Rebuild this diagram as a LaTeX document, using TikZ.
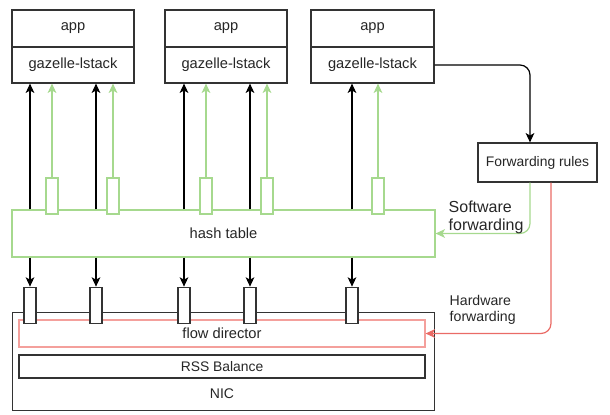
\documentclass[tikz,border=0pt]{standalone}
\usepackage{fontspec}
\setmainfont{Liberation Sans}
\usetikzlibrary{arrows.meta,calc}
\definecolor{gline}{HTML}{A6D98E}
\definecolor{rline}{HTML}{EA6B66}
\definecolor{rbox}{HTML}{F4A09C}
\definecolor{dk}{HTML}{333333}
\begin{document}
\begin{tikzpicture}[x=0.75pt,y=-0.75pt,
  box/.style={draw=dk,line width=0.9pt,fill=white,inner sep=0pt,minimum width={(#1)*0.75pt}},
  txt/.style={font=\fontsize{11}{13}\selectfont,text=black!85},
  pin/.style={draw=dk,line width=0.8pt,fill=white,minimum width=9pt,minimum height=27.5pt,inner sep=0pt},
  gpin/.style={draw=gline,line width=0.8pt,fill=white,minimum width=9pt,minimum height=27pt,inner sep=0pt},
  tip/.style={-{Stealth[length=7pt,width=6.5pt,inset=1.8pt]}},
  blk/.style={draw=black,line width=0.9pt,tip},
  grn/.style={draw=gline,line width=0.9pt,tip},
  red/.style={draw=rline,line width=0.9pt,tip}]
\useasboundingbox (0,0) rectangle (610,414);
% app boxes
\foreach \i/\xl/\xr in {1/12/134,2/165/287,3/311/434}{
  \node[box=\xr-\xl,minimum height=27.75pt,txt] (app\i) at ({(\xl+\xr)/2},28.5) {app};
  \node[box=\xr-\xl,minimum height=27pt,txt] (ls\i) at ({(\xl+\xr)/2},65) {gazelle-lstack};
}
% hash table
\node[draw=gline,line width=0.9pt,minimum width=317.25pt,minimum height=35.25pt,inner sep=0pt,txt] (ht) at (223.5,233.5) {hash table};
% green pins
\foreach \i/\x in {1/52,2/113,3/206,4/267,5/378}{
  \node[gpin] (g\i) at (\x,196) {};
}
% green up arrows
\draw[grn] (g1.north) -- (ls1.south -| g1.north);
\draw[grn] (g2.north) -- (ls1.south -| g2.north);
\draw[grn] (g3.north) -- (ls2.south -| g3.north);
\draw[grn] (g4.north) -- (ls2.south -| g4.north);
\draw[grn] (g5.north) -- (ls3.south -| g5.north);
% NIC
\node[box=422,minimum height=73.5pt,anchor=north west] (nic) at (12,312) {};
\node[txt,font=\fontsize{10.5}{12}\selectfont] (nict) at (222,394) {NIC};
\node[draw=rbox,line width=0.9pt,minimum width=304.5pt,minimum height=20.25pt,inner sep=0pt,txt] (fd) at (222,333.5) {flow director};
\node[box=406,minimum height=17.25pt,txt,font=\fontsize{10.4}{12}\selectfont] (rss) at (222,366.5) {RSS Balance};
% black pins
\foreach \i/\x in {1/30,2/96,3/184,4/250,5/352}{
  \node[pin] (k\i) at (\x,305.5) {};
}
% black arrows
\draw[blk] (ht.north -| k1.north) -- (ls1.south -| k1.north);
\draw[blk] (ht.north -| k2.north) -- (ls1.south -| k2.north);
\draw[blk] (ht.north -| k3.north) -- (ls2.south -| k3.north);
\draw[blk] (ht.north -| k4.north) -- (ls2.south -| k4.north);
\draw[blk] (ht.north -| k5.north) -- (ls3.south -| k5.north);
\foreach \i in {1,...,5}{
  \draw[blk] (ht.south -| k\i.north) -- (k\i.north);
}
% forwarding rules
\node[box=119,minimum height=29.25pt,txt,font=\fontsize{10.4}{12}\selectfont] (fr) at (537.5,162.5) {Forwarding rules};
\coordinate (fa) at (530,0);
\coordinate (fb) at (551,0);
\draw[blk,rounded corners=7.5pt] (ls3.east) -| (fr.north -| fa);
\draw[grn,rounded corners=7.5pt] (fr.south -| fa) |- (ht.east);
\draw[red,rounded corners=7.5pt] (fr.south -| fb) |- (fd.east);
% labels
\node[txt,anchor=west,align=left,font=\fontsize{12}{13.5}\selectfont] (sw) at (444,217) {Software\\forwarding};
\node[txt,anchor=west,align=left,font=\fontsize{10.6}{12}\selectfont] (hw) at (445,310) {Hardware\\forwarding};
\end{tikzpicture}
\end{document}
